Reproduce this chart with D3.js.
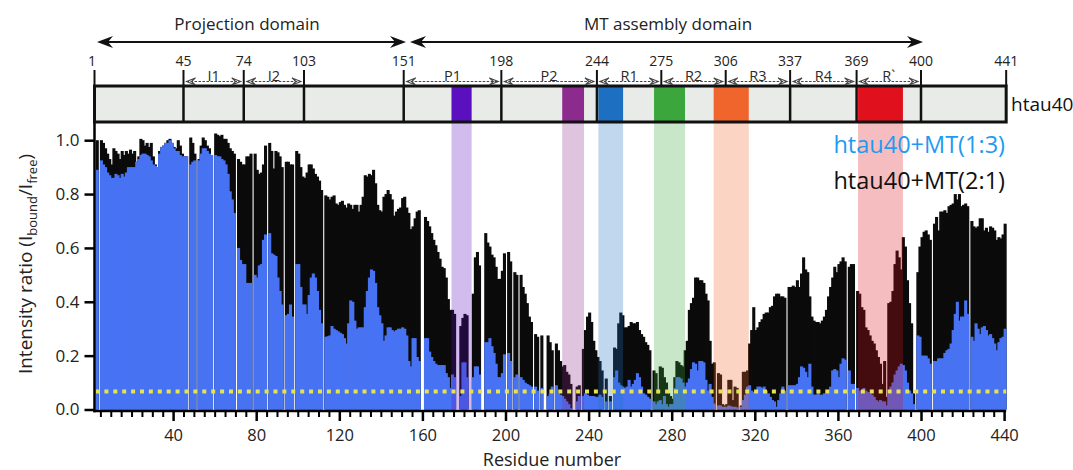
<!DOCTYPE html>
<html>
<head>
<meta charset="utf-8">
<script src="https://cdn.jsdelivr.net/npm/d3@7"></script>
<style>
  body { margin: 0; background: #fff; }
  svg { display: block; }
  text { font-family: "Open Sans", sans-serif; }
</style>
</head>
<body>
<svg id="chart" width="1073" height="470"></svg>
<script>
// Intensity ratio per residue (residue 1 first), null = no peak
const ratioMT21 = [
  null, null, 1.00, null, 1.00, 0.99, 0.97, 0.95, 0.93, 0.91,
  0.97, 0.96, 0.95, 0.93, 0.96, 0.945, 0.96, 0.95, 0.965, 0.95,
  0.96, 0.92, 0.94, 1.005, 1.00, 0.98, 0.99, 0.975, 0.99, 0.94,
  0.91, 0.90, 0.96, 0.975, 0.98, 0.99, 1.00, 1.005, 0.99, 0.975,
  0.97, 1.00, 0.98, 0.95, 0.94, 0.94, null, 1.01, 0.99, 0.95,
  null, 0.93, 0.98, 1.01, 1.00, 0.98, 0.97, 0.945, null, 1.025,
  1.02, 1.015, 1.02, 1.005, 1.005, 0.99, 0.97, 0.96, 0.95, null,
  0.93, 0.92, 0.91, 0.91, 0.94, 0.94, 0.95, null, 0.95, 0.89,
  0.875, 0.88, 0.91, 0.98, null, 0.99, 0.96, 0.895, 0.96, 0.955,
  0.94, 0.90, null, 0.92, 0.92, 0.91, 0.91, null, 0.96, 0.95,
  0.90, 0.865, 0.86, 0.88, 0.91, 0.91, 0.895, 0.875, 0.865, 0.85,
  0.815, null, 0.795, 0.79, 0.78, 0.79, 0.795, 0.765, 0.76, 0.77,
  0.775, 0.76, 0.75, 0.765, 0.76, 0.745, 0.76, 0.76, 0.735, 0.76,
  0.79, 0.87, 0.865, 0.875, 0.87, 0.89, 0.84, 0.76, 0.74, 0.735,
  0.79, 0.80, 0.815, 0.80, 0.78, 0.72, 0.735, 0.745, 0.75, 0.785,
  0.79, 0.75, 0.73, 0.67, 0.68, 0.71, 0.735, 0.74, null, null,
  0.715, 0.70, 0.68, 0.655, 0.63, 0.61, 0.585, 0.56, 0.53, 0.525,
  0.49, 0.41, 0.37, 0.37, 0.355, null, null, 0.31, 0.34, 0.355,
  0.35, null, null, 0.43, 0.565, 0.585, 0.535, null, null, 0.655,
  0.62, 0.605, 0.575, 0.565, 0.53, 0.485, 0.485, 0.515, 0.58, null,
  0.585, 0.55, null, 0.51, 0.50, null, 0.50, 0.455, 0.43, 0.395,
  0.345, 0.325, null, 0.28, 0.27, null, 0.275, null, null, 0.275,
  0.25, 0.22, null, 0.245, 0.22, 0.18, 0.16, 0.165, 0.14, 0.13,
  0.095, null, null, 0.085, 0.09, null, 0.225, 0.295, 0.345, 0.36,
  0.325, 0.255, 0.22, 0.195, 0.18, 0.145, null, 0.115, null, 0.05,
  null, 0.23, 0.225, 0.32, 0.36, 0.35, 0.305, 0.305, 0.31, 0.325,
  0.32, 0.32, 0.325, 0.295, 0.28, 0.27, 0.25, 0.24, 0.22, null,
  0.145, 0.135, 0.06, 0.16, 0.155, 0.12, 0.10, 0.06, 0.05, 0.04,
  0.12, 0.18, 0.175, 0.165, 0.16, 0.22, 0.255, 0.37, 0.395, 0.415,
  0.49, 0.49, 0.48, 0.48, 0.47, 0.43, 0.405, 0.255, 0.17, 0.175,
  null, 0.135, 0.13, 0.02, 0.015, 0.02, 0.11, 0.11, 0.035, 0.085,
  0.08, null, 0.015, 0.14, 0.14, 0.145, 0.245, 0.295, 0.38, 0.295,
  0.305, 0.325, 0.335, 0.355, 0.36, 0.36, 0.38, 0.385, 0.42, 0.43,
  0.43, 0.42, 0.42, 0.415, null, 0.455, 0.455, 0.46, 0.455, 0.48,
  0.455, 0.505, 0.565, 0.52, 0.51, 0.42, 0.345, 0.33, 0.325, 0.325,
  0.32, 0.33, 0.345, 0.37, 0.42, 0.455, 0.49, 0.53, 0.51, 0.54,
  0.55, 0.565, 0.55, null, 0.53, 0.54, 0.54, null, 0.44, 0.43,
  0.38, 0.37, 0.305, 0.295, 0.275, 0.255, 0.245, 0.22, 0.195, 0.17,
  0.095, 0.18, 0.047, 0.395, 0.40, 0.44, 0.54, 0.59, 0.565, 0.52,
  0.64, 0.605, 0.48, 0.395, 0.32, 0.06, null, 0.51, 0.605, 0.64,
  0.66, 0.665, 0.65, 0.63, null, 0.69, 0.715, 0.665, 0.735, 0.735,
  0.74, 0.73, 0.755, 0.76, 0.765, 0.80, 0.78, 0.80, 0.755, 0.76,
  0.765, 0.755, null, 0.70, 0.68, 0.675, 0.68, 0.71, 0.71, 0.665,
  0.675, 0.66, 0.68, 0.675, 0.665, 0.63, 0.64, 0.635, 0.65, 0.69
];

const ratioMT13 = [
  null, null, 0.89, null, 0.925, 0.91, 0.90, 0.88, 0.87, 0.86,
  0.86, 0.875, 0.87, 0.86, 0.875, 0.865, 0.88, 0.90, 0.90, 0.90,
  0.90, 0.92, 0.93, 0.945, 0.95, 0.95, 0.945, 0.94, 0.925, 0.91,
  0.905, 0.90, 0.95, 0.975, 0.98, 0.99, 0.99, 1.00, 0.99, 0.97,
  0.96, 0.96, 0.945, 0.94, 0.94, 0.94, null, 0.91, 0.92, 0.925,
  null, 0.925, 0.95, 0.97, 0.97, 0.96, 0.95, 0.945, null, 0.945,
  0.94, 0.94, 0.93, 0.925, 0.91, 0.875, 0.81, 0.78, 0.73, null,
  0.60, 0.555, 0.54, 0.54, 0.47, 0.47, 0.47, null, 0.50, 0.49,
  0.535, 0.54, 0.63, 0.65, null, 0.655, 0.58, 0.575, 0.57, 0.49,
  0.44, 0.39, null, 0.35, 0.355, 0.39, 0.345, null, 0.54, 0.54,
  0.455, 0.39, 0.39, 0.355, 0.425, 0.49, 0.505, 0.49, 0.44, 0.37,
  0.32, null, 0.27, 0.272, 0.275, 0.31, 0.30, 0.295, 0.29, 0.285,
  0.28, 0.265, 0.245, 0.32, 0.405, 0.40, 0.33, 0.30, 0.305, 0.305,
  0.305, 0.38, 0.44, 0.49, 0.52, 0.515, 0.47, 0.38, 0.35, 0.32,
  0.255, 0.275, 0.305, 0.305, 0.295, 0.29, 0.295, 0.30, 0.30, 0.305,
  0.30, 0.275, 0.18, 0.16, 0.265, 0.265, 0.195, 0.18, null, null,
  0.265, 0.265, 0.215, 0.195, 0.18, 0.17, 0.165, 0.165, 0.165, 0.165,
  0.135, 0.12, 0.08, 0.13, 0.12, null, null, 0.05, 0.175, 0.175,
  0.12, null, null, 0.12, 0.16, 0.16, 0.13, null, null, 0.25,
  0.25, 0.265, 0.235, 0.21, 0.17, 0.12, 0.12, 0.135, 0.205, null,
  0.21, 0.18, null, 0.12, 0.13, null, 0.12, 0.11, 0.10, 0.095,
  0.09, 0.085, null, 0.085, 0.07, null, 0.08, null, null, 0.05,
  0.06, 0.085, null, 0.09, 0.06, 0.055, 0.05, 0.04, 0.03, 0.02,
  0.005, null, null, 0.03, 0.05, null, 0.05, 0.06, 0.055, 0.05,
  0.05, 0.05, 0.047, 0.047, 0.055, 0.047, null, 0.03, null, 0.03,
  null, 0.12, 0.145, 0.10, 0.09, 0.085, 0.08, 0.085, 0.11, 0.085,
  0.095, 0.11, 0.135, 0.12, 0.085, 0.06, 0.055, 0.047, 0.04, null,
  0.03, 0.02, 0.03, 0.035, 0.02, 0.05, 0.02, 0.01, 0.02, 0.02,
  0.08, 0.12, 0.12, 0.115, 0.10, 0.085, 0.10, 0.115, 0.15, 0.175,
  0.17, 0.145, 0.18, 0.18, 0.175, 0.11, 0.07, 0.095, 0.047, 0.022,
  null, 0.015, 0.015, 0.01, 0.01, 0.01, 0.015, 0.012, 0.01, 0.01,
  0.008, null, 0.01, 0.035, 0.055, 0.085, 0.09, 0.07, 0.065, 0.07,
  0.085, 0.085, 0.08, 0.085, 0.07, 0.06, 0.047, 0.035, 0.03, 0.01,
  0.035, 0.06, 0.085, 0.07, null, 0.09, 0.09, 0.09, 0.09, 0.095,
  0.12, 0.16, 0.155, 0.14, 0.12, 0.17, 0.085, 0.055, 0.055, 0.06,
  0.055, 0.055, 0.06, 0.06, 0.07, 0.085, 0.145, 0.15, 0.145, 0.12,
  0.17, 0.19, 0.185, null, 0.145, 0.095, 0.095, null, 0.08, 0.07,
  0.07, 0.08, 0.07, 0.065, 0.06, 0.055, 0.047, 0.035, 0.03, 0.035,
  0.03, 0.03, 0.015, 0.06, 0.085, 0.10, 0.13, 0.145, 0.16, 0.17,
  0.165, 0.145, 0.10, 0.07, 0.06, 0.02, null, 0.275, 0.27, 0.20,
  0.20, 0.20, 0.19, 0.17, null, 0.18, 0.18, 0.19, 0.19, 0.19,
  0.21, 0.22, 0.225, 0.245, 0.295, 0.355, 0.40, 0.33, 0.345, 0.345,
  0.405, 0.355, null, 0.27, 0.255, 0.32, 0.30, 0.28, 0.305, 0.31,
  0.295, 0.275, 0.28, 0.265, 0.245, 0.22, 0.25, 0.265, 0.27, 0.30
];

const seriesNames = ["htau40+MT(1:3)", "htau40+MT(2:1)"];
const threshold = 0.067;

const yTicks = [0, 0.2, 0.4, 0.6, 0.8, 1.0];
const xTicks = [40, 80, 120, 160, 200, 240, 280, 320, 360, 400, 440];
const xMinorTicks = d3.range(5, 441, 5);

// htau40 domain map
const boundaries = [1, 45, 74, 103, 151, 198, 244, 275, 306, 337, 369, 400, 441];
const boxDividers = [45, 74, 103, 151, 198, 244, 337, 369, 400];
const regionLabels = ["I1", "I2", "P1", "P2", "R1", "R2", "R3", "R4", "R`"];
const regionStart = [45, 74, 151, 198, 244, 275, 306, 337, 369];
const regionEnd = [74, 103, 198, 244, 275, 306, 337, 369, 400];

const domainNames = ["Projection domain", "MT assembly domain"];
const domainStart = [1, 151];
const domainEnd = [151, 400];

// MT binding hot spots
const hotspotStart = [174, 227.3, 244.7, 271.5, 300.2, 369.7];
const hotspotEnd = [183.7, 237.8, 256.6, 286.4, 317.1, 391.3];
const hotspotColors = ["#5a10be", "#8c2a8e", "#1d6fc1", "#3aa63b", "#f0652c", "#e0111c"];

const svg = d3.select("#chart");

const x = d3.scaleLinear().domain([0, 441]).range([90, 90 + 2.0775 * 441]);
const y = d3.scaleLinear().domain([0, 1]).range([409.5, 140.2]);
const axisX = 94.5, axisY = 411, boxTop = 86, boxBottom = 122;

// bars
const residues = d3.range(1, ratioMT21.length + 1);
function drawBars(values, color) {
  svg.append("g")
    .selectAll("rect")
    .data(residues.filter(r => values[r - 1] != null))
    .join("rect")
    .attr("x", r => x(r) - 0.5)
    .attr("width", r => x(r + 1) - x(r) + 1)
    .attr("y", r => y(values[r - 1]))
    .attr("height", r => y(0) - y(values[r - 1]))
    .attr("fill", color);
}
drawBars(ratioMT21, "#0b0b0b");
drawBars(ratioMT13, "#4773f3");

// hot spot bands
svg.append("g")
  .selectAll("rect")
  .data(hotspotStart)
  .join("rect")
  .attr("x", (d, i) => x(d))
  .attr("width", (d, i) => x(hotspotEnd[i]) - x(d))
  .attr("y", boxBottom)
  .attr("height", y(0) - boxBottom)
  .attr("fill", (d, i) => hotspotColors[i])
  .attr("opacity", 0.28);

// threshold
svg.append("line")
  .attr("x1", axisX + 1).attr("x2", x(441))
  .attr("y1", y(threshold)).attr("y2", y(threshold))
  .attr("stroke", "#e6e255")
  .attr("stroke-width", 4)
  .attr("stroke-dasharray", "4,4.9");

// y axis
const yAxis = svg.append("g")
  .attr("transform", `translate(${axisX},0)`)
  .call(d3.axisLeft(y).tickValues(yTicks).tickFormat(d3.format(".1f")).tickSize(10).tickPadding(5));
yAxis.select(".domain").remove();
yAxis.selectAll("line").attr("stroke", "#000").attr("stroke-width", 2.5);
yAxis.selectAll("text").style("font-size", "17px").attr("fill", "#222").attr("font-family", "Open Sans");

svg.append("line")
  .attr("x1", axisX).attr("x2", axisX)
  .attr("y1", boxBottom).attr("y2", axisY + 1.2)
  .attr("stroke", "#000").attr("stroke-width", 2.5);

// x axis
const xMinor = svg.append("g")
  .attr("transform", `translate(0,${axisY})`)
  .call(d3.axisBottom(x).tickValues(xMinorTicks.filter(t => t % 40 !== 0)).tickSize(6).tickFormat(""));
xMinor.select(".domain").remove();
xMinor.selectAll("line").attr("stroke", "#000").attr("stroke-width", 2);

const xMajor = svg.append("g")
  .attr("transform", `translate(0,${axisY})`)
  .call(d3.axisBottom(x).tickValues(xTicks).tickSize(10).tickPadding(8.5));
xMajor.select(".domain").remove();
xMajor.selectAll("line").attr("stroke", "#000").attr("stroke-width", 2.5);
xMajor.selectAll("text").style("font-size", "16.5px").attr("fill", "#222").attr("font-family", "Open Sans");

svg.append("line")
  .attr("x1", axisX - 1.2).attr("x2", x(441))
  .attr("y1", axisY).attr("y2", axisY)
  .attr("stroke", "#000").attr("stroke-width", 2.5);

// axis titles
svg.append("text")
  .attr("x", 552).attr("y", 465.5)
  .attr("text-anchor", "middle")
  .style("font-size", "18px").attr("fill", "#222")
  .text("Residue number");

const yTitle = svg.append("text")
  .attr("transform", "translate(32,264) rotate(-90)")
  .attr("text-anchor", "middle")
  .style("font-size", "19px").attr("fill", "#222");
yTitle.append("tspan").text("Intensity ratio (I");
yTitle.append("tspan").attr("dy", 5).style("font-size", "13px").text("bound");
yTitle.append("tspan").attr("dy", -5).text("/I");
yTitle.append("tspan").attr("dy", 5).style("font-size", "13px").text("free");
yTitle.append("tspan").attr("dy", -5).text(")");

// legend
svg.append("text")
  .attr("x", 1005).attr("y", 153)
  .attr("text-anchor", "end")
  .style("font-size", "23.5px").attr("fill", "#1f9bf0")
  .text(seriesNames[0]);
svg.append("text")
  .attr("x", 1005).attr("y", 189)
  .attr("text-anchor", "end")
  .style("font-size", "23.5px").attr("fill", "#111")
  .text(seriesNames[1]);

// ---- domain map ----
const bx = r => Math.min(Math.max(x(r), axisX), x(441));

svg.append("rect")
  .attr("x", axisX).attr("y", boxTop)
  .attr("width", bx(441) - axisX).attr("height", boxBottom - boxTop)
  .attr("fill", "#e8ebe7");

svg.append("g")
  .selectAll("rect")
  .data(hotspotStart)
  .join("rect")
  .attr("x", d => x(d))
  .attr("width", (d, i) => x(hotspotEnd[i]) - x(d))
  .attr("y", boxTop)
  .attr("height", boxBottom - boxTop)
  .attr("fill", (d, i) => hotspotColors[i]);

svg.append("g")
  .selectAll("line")
  .data(boxDividers)
  .join("line")
  .attr("x1", d => bx(d)).attr("x2", d => bx(d))
  .attr("y1", boxTop).attr("y2", boxBottom)
  .attr("stroke", "#111").attr("stroke-width", 2.5);

svg.append("rect")
  .attr("x", axisX).attr("y", boxTop)
  .attr("width", bx(441) - axisX).attr("height", boxBottom - boxTop)
  .attr("fill", "none").attr("stroke", "#111").attr("stroke-width", 3);

svg.append("text")
  .attr("x", 1011).attr("y", 111)
  .style("font-size", "19px").attr("fill", "#111")
  .text("htau40");

// boundary ticks and numbers
svg.append("g")
  .selectAll("line")
  .data(boundaries)
  .join("line")
  .attr("x1", d => bx(d)).attr("x2", d => bx(d))
  .attr("y1", 70).attr("y2", boxTop)
  .attr("stroke", "#111").attr("stroke-width", 2);

svg.append("g")
  .selectAll("text")
  .data(boundaries)
  .join("text")
  .attr("x", d => d === 1 ? 92 : bx(d))
  .attr("y", 66)
  .attr("text-anchor", "middle")
  .style("font-size", "14px").attr("fill", "#222")
  .text(d => d);

// dashed region arrows
const subArrowY = 81.5;
const regions = svg.append("g");
regionLabels.forEach((lab, i) => {
  const x0 = bx(regionStart[i]) + 3, x1 = bx(regionEnd[i]) - 3;
  regions.append("line")
    .attr("x1", x0).attr("x2", x1)
    .attr("y1", subArrowY).attr("y2", subArrowY)
    .attr("stroke", "#444").attr("stroke-width", 1)
    .attr("stroke-dasharray", "2.5,1.5");
  [[x0, 1], [x1, -1]].forEach(([px, dir]) => {
    regions.append("path")
      .attr("d", `M${px + dir * 9},${subArrowY - 3.6} L${px},${subArrowY} L${px + dir * 9},${subArrowY + 3.6} M${px + dir * 9},${subArrowY - 3.6} L${px + dir * 5},${subArrowY} L${px + dir * 9},${subArrowY + 3.6}`)
      .attr("fill", "none").attr("stroke", "#444").attr("stroke-width", 1.1);
  });
  regions.append("text")
    .attr("x", (x0 + x1) / 2).attr("y", subArrowY - 1)
    .attr("text-anchor", "middle")
    .style("font-size", "14.5px").attr("fill", "#2a2a2a")
    .text(lab);
});

// domain arrows
const domainArrowY = 42;
const arrowHead = (tipX, dir) => {
  const L = 16, W = 6, N = 11;
  return `M${tipX},${domainArrowY} L${tipX - dir * L},${domainArrowY - W} L${tipX - dir * N},${domainArrowY} L${tipX - dir * L},${domainArrowY + W} Z`;
};
const domainTips = [[97, 406], [410, 923]];
domainNames.forEach((name, i) => {
  const [a, b] = domainTips[i];
  svg.append("line")
    .attr("x1", a + 8).attr("x2", b - 8)
    .attr("y1", domainArrowY).attr("y2", domainArrowY)
    .attr("stroke", "#111").attr("stroke-width", 2);
  svg.append("path").attr("d", arrowHead(a, -1)).attr("fill", "#111");
  svg.append("path").attr("d", arrowHead(b, 1)).attr("fill", "#111");
  svg.append("text")
    .attr("x", i === 0 ? 247 : 668).attr("y", 30)
    .attr("text-anchor", "middle")
    .style("font-size", "17px").attr("fill", "#222")
    .text(name);
});
</script>
</body>
</html>
